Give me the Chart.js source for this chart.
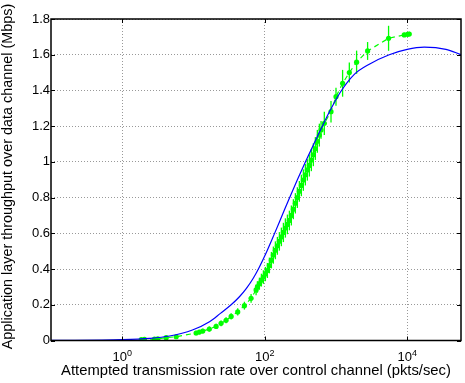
<!DOCTYPE html>
<html>
<head>
<meta charset="utf-8">
<script src="https://cdn.jsdelivr.net/npm/chart.js@4/dist/chart.umd.min.js"></script>
<style>
  html, body { margin: 0; padding: 0; background: #fff; }
  #wrap { position: relative; width: 465px; height: 383px; }
</style>
</head>
<body>
<div id="wrap"><canvas id="chart"></canvas></div>
<script>
// model curve (blue)
const modelRate = [0.1, 1, 2.41, 4.61, 9.68, 16.8, 23.9, 33.8, 44.2, 55.4, 69.4, 84.3, 107.4, 136.8, 174.3, 222, 287.5, 378, 482, 618, 834.6, 1153, 1812, 2941, 5608, 10020, 17370, 35000, 57400];
const modelThroughput = [0.0005, 0.005, 0.012, 0.025, 0.059, 0.105, 0.152, 0.2, 0.245, 0.292, 0.35, 0.412, 0.5, 0.597, 0.697, 0.797, 0.9, 1.005, 1.095, 1.185, 1.29, 1.39, 1.49, 1.547, 1.6, 1.63, 1.642, 1.63, 1.60];

// measured points (green, with error bars)
const measuredRate = [
  1.85, 2.05, 2.84, 3.16, 4.14, 5.72, 10.9, 12.1, 13.5, 16.7, 20.8, 24.4, 28.7, 33.8, 41.8, 51.9, 64.4, 75.7,
  79.0, 84.3, 89.9, 95.9, 102.3, 109.1, 116.4, 124.2, 132.4, 141.3, 150.7, 160.8, 171.5, 183.0, 195.2, 208.2,
  222.1, 236.9, 252.7, 269.6, 287.5, 306.7, 327.2, 349.0, 372.3, 397.2, 423.6, 451.9, 482.1, 514.3, 548.6, 585.2,
  618, 687, 853, 1002, 1241, 1542, 1951, 2784, 5483, 9100, 10140, 10710
];
const measuredThroughput = [
  0.005, 0.006, 0.008, 0.009, 0.016, 0.021, 0.042, 0.047, 0.053, 0.064, 0.079, 0.096, 0.113, 0.135, 0.16, 0.195, 0.236, 0.283,
  0.300, 0.318, 0.338, 0.355, 0.372, 0.392, 0.420, 0.450, 0.478, 0.505, 0.530, 0.555, 0.580, 0.605, 0.630, 0.650,
  0.672, 0.700, 0.735, 0.768, 0.800, 0.835, 0.868, 0.898, 0.928, 0.955, 0.980, 1.010, 1.040, 1.075, 1.115, 1.150,
  1.179, 1.216, 1.281, 1.365, 1.44, 1.50, 1.558, 1.621, 1.692, 1.711, 1.714, 1.716
];
const measuredError = [
  0.008, 0.008, 0.009, 0.009, 0.01, 0.01, 0.012, 0.012, 0.013, 0.014, 0.015, 0.016, 0.017, 0.018, 0.02, 0.022, 0.025, 0.03,
  0.032, 0.034, 0.036, 0.038, 0.04, 0.042, 0.044, 0.046, 0.048, 0.05, 0.05, 0.052, 0.052, 0.054, 0.054, 0.055,
  0.055, 0.056, 0.056, 0.057, 0.058, 0.058, 0.06, 0.06, 0.06, 0.06, 0.062, 0.062, 0.064, 0.064, 0.064, 0.064,
  0.05, 0.065, 0.06, 0.05, 0.075, 0.056, 0.065, 0.05, 0.07, 0.012, 0.01, 0.012
];

const xTickValues = [1, 100, 10000];
const xTickExponents = ['0', '2', '4'];
const xTitle = 'Attempted transmission rate over control channel (pkts/sec)';
const yTitle = 'Application layer throughput over data channel (Mbps)';

const green = '#00ff00';
const blue = '#0000ff';
const fontFamily = '"Liberation Sans", Arial, Helvetica, sans-serif';

const errorBars = {
  id: 'errorBars',
  beforeDatasetsDraw(chart) {
    const { ctx, scales: { x, y } } = chart;
    ctx.save();
    ctx.strokeStyle = green;
    ctx.lineWidth = 1.3;
    measuredRate.forEach((rate, i) => {
      const px = x.getPixelForValue(rate);
      const top = y.getPixelForValue(measuredThroughput[i] + measuredError[i]);
      const bottom = y.getPixelForValue(Math.max(0, measuredThroughput[i] - measuredError[i]));
      ctx.beginPath();
      ctx.moveTo(px, top);
      ctx.lineTo(px, bottom);
      ctx.stroke();
    });
    ctx.restore();
  },
};

const axesFrame = {
  id: 'axesFrame',
  afterDraw(chart) {
    const { ctx, chartArea: area, scales: { x, y } } = chart;
    ctx.save();
    ctx.strokeStyle = '#000';

    // inner ticks
    ctx.lineWidth = 1;
    ctx.beginPath();
    y.ticks.forEach((t) => {
      const py = Math.round(y.getPixelForValue(t.value)) + 0.5;
      ctx.moveTo(area.left, py);
      ctx.lineTo(area.left + 4, py);
      ctx.moveTo(area.right, py);
      ctx.lineTo(area.right - 4, py);
    });
    x.ticks.forEach((t) => {
      const px = Math.round(x.getPixelForValue(t.value)) + 0.5;
      ctx.moveTo(px, area.bottom);
      ctx.lineTo(px, area.bottom - 4);
      ctx.moveTo(px, area.top);
      ctx.lineTo(px, area.top + 4);
    });
    ctx.stroke();

    // box
    ctx.lineWidth = 1.5;
    ctx.strokeRect(area.left, area.top, area.right - area.left, area.bottom - area.top);

    ctx.fillStyle = '#000';
    ctx.textBaseline = 'alphabetic';

    // x tick labels as 10^n
    ctx.textAlign = 'left';
    xTickValues.forEach((value, i) => {
      const px = x.getPixelForValue(value);
      ctx.font = `13px ${fontFamily}`;
      const baseWidth = ctx.measureText('10').width;
      ctx.font = `9px ${fontFamily}`;
      const expWidth = ctx.measureText(xTickExponents[i]).width;
      const start = px - (baseWidth + expWidth) / 2;
      ctx.font = `13px ${fontFamily}`;
      ctx.fillText('10', start, 361);
      ctx.font = `9px ${fontFamily}`;
      ctx.fillText(xTickExponents[i], start + baseWidth, 355.5);
    });

    // axis titles
    ctx.textAlign = 'center';
    ctx.font = `14.8px ${fontFamily}`;
    ctx.fillText(xTitle, (area.left + area.right) / 2, 374.5);
    ctx.font = `14.4px ${fontFamily}`;
    ctx.translate(12, 176.5);
    ctx.rotate(-Math.PI / 2);
    ctx.fillText(yTitle, 0, 0);
    ctx.restore();
  },
};

const toPoints = (xs, ys) => xs.map((value, i) => ({ x: value, y: ys[i] }));

new Chart(document.getElementById('chart'), {
  type: 'scatter',
  data: {
    datasets: [
      {
        label: 'model',
        data: toPoints(modelRate, modelThroughput),
        showLine: true,
        borderColor: blue,
        borderWidth: 1.2,
        pointRadius: 0,
        cubicInterpolationMode: 'monotone',
      },
      {
        label: 'measured',
        data: toPoints(measuredRate, measuredThroughput),
        showLine: true,
        borderColor: green,
        borderWidth: 1.2,
        borderDash: [5, 4],
        pointRadius: 2.6,
        pointBorderWidth: 0,
        pointBackgroundColor: green,
      },
    ],
  },
  options: {
    responsive: true,
    maintainAspectRatio: false,
    animation: false,
    devicePixelRatio: 1,
    layout: { padding: { top: 19, right: 3, left: 0, bottom: 0 } },
    plugins: {
      legend: { display: false },
      tooltip: { enabled: false },
    },
    scales: {
      x: {
        type: 'logarithmic',
        position: 'bottom',
        min: 0.1,
        max: 57000,
        afterBuildTicks: (scale) => {
          scale.ticks = xTickValues.map((value) => ({ value }));
        },
        afterFit: (scale) => {
          scale.height = 42.5;
        },
        ticks: { display: false },
        grid: { color: '#999999', lineWidth: 1, drawTicks: false },
        border: { display: false, dash: [1, 2] },
      },
      y: {
        min: 0,
        max: 1.8,
        afterFit: (scale) => {
          scale.width = 51;
        },
        ticks: {
          stepSize: 0.2,
          color: '#000',
          padding: 1,
          font: { family: fontFamily, size: 13 },
          callback: (value) => String(Number(value.toFixed(1))),
        },
        grid: { color: '#999999', lineWidth: 1, drawTicks: false },
        border: { display: false, dash: [1, 2] },
      },
    },
  },
  plugins: [errorBars, axesFrame],
});
</script>
</body>
</html>
